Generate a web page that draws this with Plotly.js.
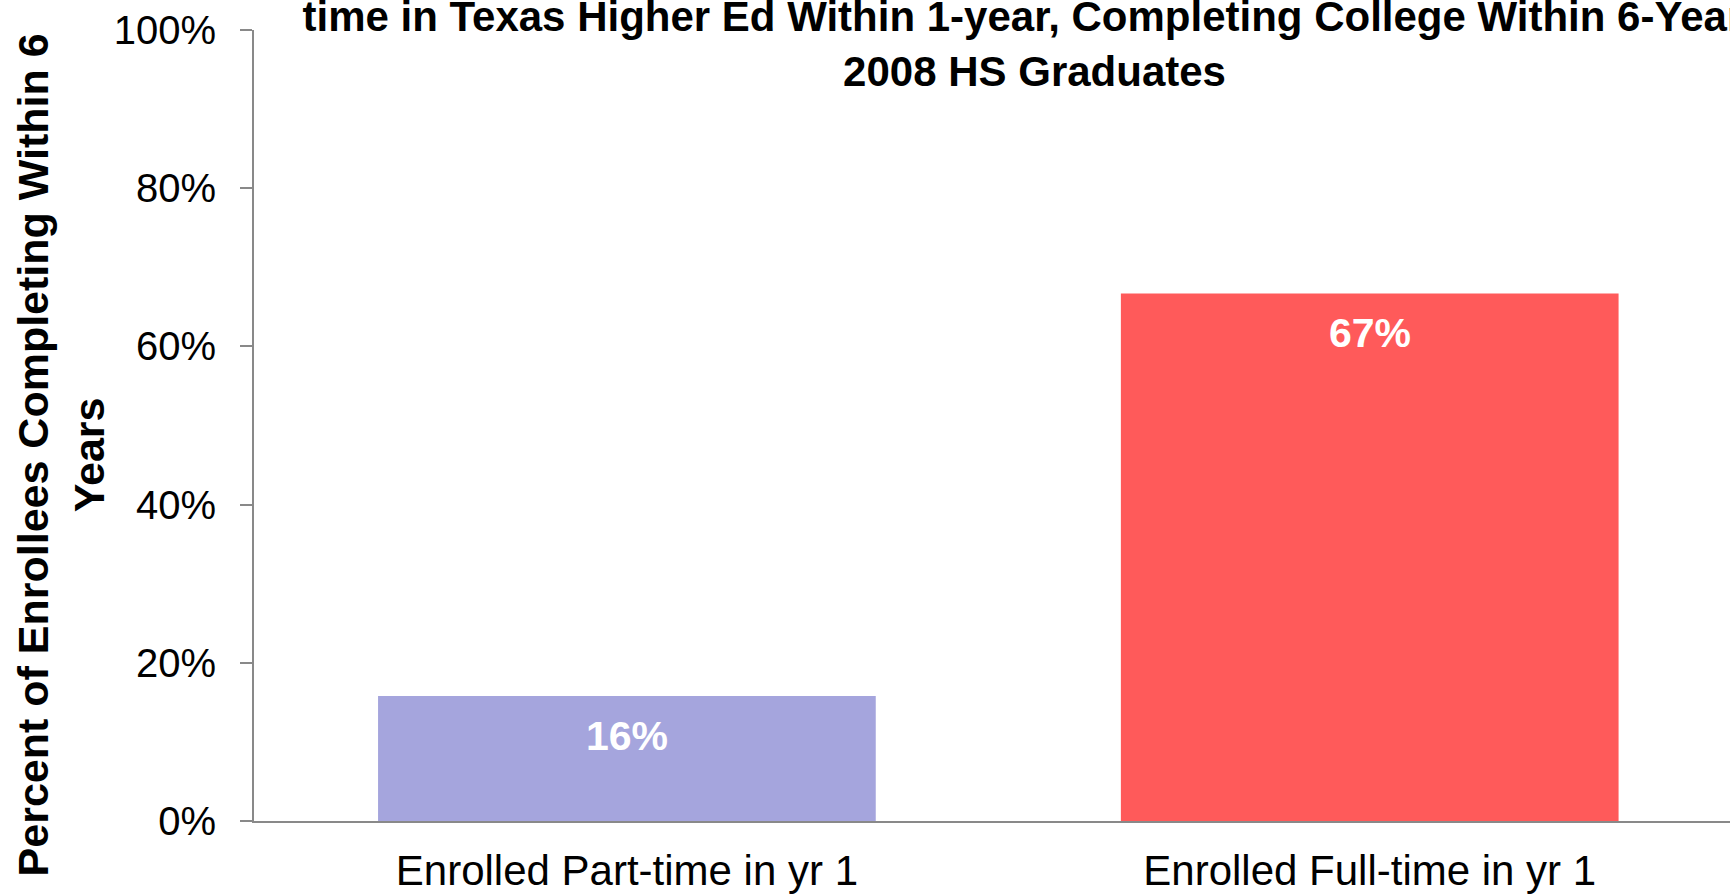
<!DOCTYPE html>
<html>
<head>
<meta charset="utf-8">
<script src="https://cdn.plot.ly/plotly-3.0.1.min.js"></script>
<style>
  html, body { margin: 0; padding: 0; background: #ffffff; }
  #chart { width: 1730px; height: 894px; }
</style>
</head>
<body>
<div id="chart"></div>
<script>
// ---- data ----
const categories = ["Enrolled Part-time in yr 1", "Enrolled Full-time in yr 1"];
const completionRates = [0.158, 0.667];
const barLabels = ["16%", "67%"];
const barColors = ["#A5A5DD", "#FF5A5A"];
const yTickValues = [0, 0.2, 0.4, 0.6, 0.8, 1.0];
const yTickLabels = ["0%", "20%", "40%", "60%", "80%", "100%"];
const chartTitle = "time in Texas Higher Ed Within 1-year, Completing College Within 6-Years<br>2008 HS Graduates";
const yTitle = "Percent of Enrollees Completing Within 6<br>Years";

const FONT = "Liberation Sans, Arial, Helvetica, sans-serif";

const trace = {
  type: "bar",
  x: categories,
  y: completionRates,
  width: 0.67,
  marker: { color: barColors, line: { width: 0 } },
  hoverinfo: "skip",
  showlegend: false
};

const annotations = categories.map((c, i) => ({
  x: c,
  y: completionRates[i],
  xref: "x",
  yref: "y",
  text: barLabels[i],
  showarrow: false,
  yanchor: "middle",
  xanchor: "center",
  yshift: -40,
  font: { family: FONT, size: 41, color: "#ffffff", weight: "bold" }
}));

// y-axis title (rotated, two lines)
annotations.push({
  xref: "paper",
  yref: "paper",
  x: -0.131,
  y: 0.463,
  xanchor: "center",
  yanchor: "middle",
  textangle: -90,
  text: yTitle,
  showarrow: false,
  align: "center",
  font: { family: FONT, size: 43, color: "#000000", weight: "bold" }
});

const layout = {
  width: 1730,
  height: 894,
  paper_bgcolor: "#ffffff",
  plot_bgcolor: "#ffffff",
  margin: { l: 254, r: 0, t: 30, b: 73, pad: 0 },
  font: { family: FONT, color: "#000000" },
  title: {
    text: chartTitle,
    font: { family: FONT, size: 42, color: "#000000", weight: "bold" },
    xref: "container",
    yref: "container",
    x: 0.598,
    xanchor: "center",
    y: 1,
    yanchor: "top",
    pad: { t: 31 }
  },
  xaxis: {
    type: "category",
    range: [-0.502, 1.485],
    showline: true,
    linecolor: "#898989",
    linewidth: 2,
    ticks: "",
    showgrid: false,
    zeroline: false,
    tickfont: { family: FONT, size: 42, color: "#000000" },
    ticklabelstandoff: 12,
    fixedrange: true
  },
  yaxis: {
    range: [0, 1],
    tickvals: yTickValues,
    ticktext: yTickLabels,
    showline: true,
    linecolor: "#898989",
    linewidth: 2,
    ticks: "outside",
    ticklen: 12,
    tickwidth: 2,
    tickcolor: "#898989",
    showgrid: false,
    zeroline: false,
    tickfont: { family: FONT, size: 40, color: "#000000" },
    ticklabelstandoff: 16,
    automargin: false,
    fixedrange: true
  },
  annotations: annotations
};

Plotly.newPlot("chart", [trace], layout, { displayModeBar: false, staticPlot: true });
</script>
</body>
</html>
